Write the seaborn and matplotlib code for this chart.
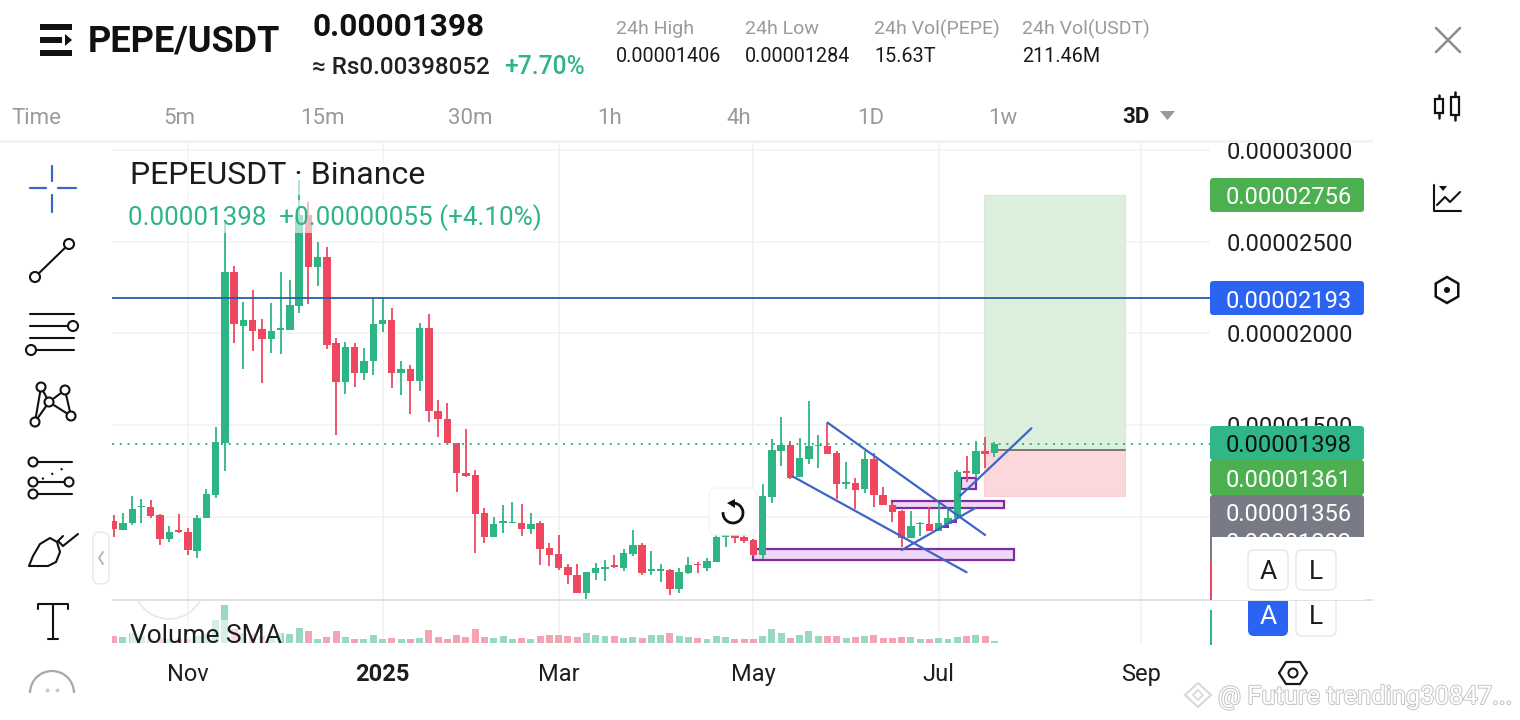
import numpy as np
import pandas as pd
import matplotlib
matplotlib.use("Agg")
import matplotlib.pyplot as plt
import matplotlib.patheffects as pe
from matplotlib.patches import Rectangle, FancyBboxPatch, RegularPolygon, Arc, Circle, Polygon
import seaborn as sns

# ---------------------------------------------------------
#                 DATA (prices in 1e-8 USDT)
# ---------------------------------------------------------

opens = [978, 927, 967, 1051, 1051, 1009, 878, 927, 915, 815, 991, 1118, 1404, 2333, 2042, 2071,
         2022, 1971, 2020, 2018, 2151, 2645, 2360, 2415, 1946, 1736, 1924, 1786, 1847, 2049, 2071, 1782,
         1804, 1742, 2029, 1578, 1531, 1400, 1240, 1226, 1018, 891, 967, 967, 967, 935, 964, 827,
         795, 724, 684, 586, 695, 716, 735, 718, 796, 846, 706, 706, 709, 606, 691, 744,
         718, 753, 891, 898, 891, 873, 791, 1109, 1360, 1391, 1218, 1316, 1386, 1386, 1346, 1180,
         1182, 1151, 1313, 1120, 1062, 1029, 882, 960, 958, 924, 960, 991, 1249, 1231, 1358, 1346]
highs = [1009, 1022, 1115, 1095, 1091, 1015, 949, 1015, 937, 1009, 1149, 1487, 2600, 2367, 2169, 2236,
         2078, 2164, 2333, 2291, 2836, 2718, 2496, 2469, 1973, 1951, 1946, 1918, 2191, 2200, 2136, 1847,
         1827, 2055, 2106, 1636, 1618, 1400, 1476, 1255, 1045, 996, 1062, 1078, 1067, 1018, 978, 858,
         898, 742, 740, 700, 747, 762, 791, 822, 927, 855, 811, 742, 713, 718, 778, 755,
         775, 900, 909, 909, 900, 878, 1176, 1422, 1542, 1415, 1427, 1631, 1444, 1513, 1356, 1298,
         1209, 1358, 1346, 1160, 1082, 1036, 1031, 973, 1051, 1073, 1036, 1255, 1333, 1413, 1433, 1406]
lows = [887, 927, 955, 967, 991, 846, 864, 909, 791, 777, 991, 1100, 1251, 1946, 1806, 1904,
        1731, 1895, 1887, 2018, 2113, 2160, 2258, 1916, 1446, 1669, 1709, 1746, 1773, 2007, 1702, 1664,
        1560, 1687, 1518, 1436, 1400, 1136, 1215, 804, 855, 891, 913, 964, 896, 906, 738, 733,
        709, 633, 582, 551, 655, 651, 722, 706, 787, 682, 682, 644, 573, 586, 687, 695,
        706, 753, 836, 858, 855, 786, 769, 1073, 1278, 1204, 1215, 1286, 1267, 1342, 1095, 1149,
        1040, 1131, 1051, 1062, 973, 836, 882, 895, 924, 924, 960, 986, 1187, 1209, 1267, 1327]
closes = [931, 967, 1044, 1058, 1004, 880, 918, 918, 818, 991, 1122, 1409, 2333, 2049, 2071, 2015,
          1971, 2015, 2027, 2153, 2645, 2360, 2415, 1938, 1736, 1924, 1786, 1847, 2049, 2071, 1782, 1804,
          1742, 2029, 1578, 1531, 1400, 1240, 1222, 1015, 891, 958, 975, 973, 935, 962, 825, 793,
          718, 684, 582, 700, 718, 727, 726, 802, 846, 691, 713, 713, 606, 698, 736, 735,
          758, 891, 900, 885, 867, 791, 1113, 1364, 1391, 1209, 1318, 1386, 1391, 1342, 1178, 1187,
          1146, 1313, 1118, 1062, 1027, 886, 949, 967, 924, 967, 991, 1244, 1240, 1358, 1340, 1398]
volumes = [20, 18, 30, 20, 12, 15, 12, 10, 10, 20, 25, 68, 113, 40, 30, 25,
           20, 20, 30, 25, 45, 35, 10, 18, 35, 17, 10, 10, 23, 10, 14, 10,
           10, 15, 38, 18, 10, 23, 18, 42, 18, 14, 20, 10, 14, 10, 20, 22,
           24, 21, 18, 30, 24, 21, 21, 14, 17, 14, 23, 22, 30, 20, 17, 15,
           10, 20, 18, 10, 10, 11, 20, 41, 28, 15, 23, 35, 19, 20, 20, 13,
           17, 21, 24, 14, 14, 17, 17, 10, 10, 14, 11, 17, 20, 23, 20, 5]

x_tick_pos = [8, 29, 48, 69, 89, 110.8]
x_tick_labels = ["Nov", "2025", "Mar", "May", "Jul", "Sep"]
y_ticks = [3000, 2500, 2000, 1500, 1000]
y_tick_labels = ["0.00003000", "0.00002500", "0.00002000", "0.00001500", "0.00001000"]

hline_price = 2193
last_price = 1398
long_x = [93.9, 109.1]
long_target, long_entry, long_stop = 2756, 1361, 1113

trend_lines = [((77.0, 1513), (94.0, 900)),
               ((73.3, 1218), (92.0, 697)),
               ((85.0, 818), (92.9, 1046)),
               ((91.3, 1113), (99.0, 1482))]
zones = [(69.0, 97.1, 764, 822), (84.0, 96.0, 1047, 1085), (91.35, 93.0, 1151, 1209)]
zone_slivers = [(89.5, 90.1, 936, 955), (90.46, 91.0, 964, 982)]

# the 1283 badge is mostly hidden, only the top of its digits shows
badges = [("0.00002756", 178, 212, "#4caf50", "white"),
          ("0.00002193", 281, 315, "#2b63f2", "white"),
          ("0.00001398", 426, 460, "#2fb689", "#111111"),
          ("0.00001361", 460, 495, "#4caf50", "white"),
          ("0.00001283", 524, 556, "#787b86", "white"),
          ("0.00001356", 495, 528, "#787b86", "white")]

header_stats = [(616, "24h High", "0.00001406"), (745, "24h Low", "0.00001284"),
                (874, "24h Vol(PEPE)", "15.63T"), (1022, "24h Vol(USDT)", "211.46M")]
tabs = [(179, "5m"), (322, "15m"), (470, "30m"), (610, "1h"), (739, "4h"), (871, "1D"), (1003, "1w")]

# ---------------------------------------------------------
#                 STYLE / AXES
# ---------------------------------------------------------

GREEN = "#2db583"
RED = "#ef4760"
BLUE_LINE = "#3b66c6"
GRID = "#f1f1f1"
W, H = 1520, 720

sns.set_theme(style="white")
plt.rcParams["font.family"] = ["Roboto", "DejaVu Sans"]

fig = plt.figure(figsize=(W / 100, H / 100), dpi=100, facecolor="white")


def px_axes(left, top, right, bottom):
    return fig.add_axes([left / W, 1 - bottom / H, (right - left) / W, (bottom - top) / H])


ax = px_axes(112, 141, 1210, 600)
ax_vol = px_axes(112, 600, 1210, 642.7)
ui = fig.add_axes([0, 0, 1, 1], zorder=10)
ui.set_xlim(0, W)
ui.set_ylim(H, 0)
ui.axis("off")
ui.patch.set_alpha(0)

# ---------------------------------------------------------
#                 PRICE PANEL
# ---------------------------------------------------------

df = pd.DataFrame({"open": opens, "high": highs, "low": lows, "close": closes, "volume": volumes})
df = df.assign(idx=np.arange(len(df)))
df["dir"] = np.where(df["close"] >= df["open"], "up", "down")
for col in ["open", "high", "low", "close"]:
    df[col] = df[col] * 1e-8

# position tool first so the candles sit on top of it
ax.add_patch(Rectangle((long_x[0], long_entry * 1e-8), long_x[1] - long_x[0], (long_target - long_entry) * 1e-8,
                       facecolor="#dcefdc", edgecolor="#d6ebd6", lw=0.8, zorder=1))
ax.add_patch(Rectangle((long_x[0], long_stop * 1e-8), long_x[1] - long_x[0], (long_entry - long_stop) * 1e-8,
                       facecolor="#fcd7dc", edgecolor="#fad0d6", lw=0.8, zorder=1))
ax.plot([94.8, long_x[1]], [long_entry * 1e-8] * 2, color="#707070", lw=1.3, zorder=1.5)

for x0, x1, y0, y1 in zones:
    ax.add_patch(Rectangle((x0, y0 * 1e-8), x1 - x0, (y1 - y0) * 1e-8,
                           facecolor="#f0d6f8", edgecolor="#7d2f9f", lw=1.6, zorder=1.6))
for x0, x1, y0, y1 in zone_slivers:
    ax.add_patch(Rectangle((x0, y0 * 1e-8), x1 - x0, (y1 - y0) * 1e-8, facecolor="#7d2f9f", lw=0, zorder=1.6))

for direction, color in [("up", GREEN), ("down", RED)]:
    sub = df[df["dir"] == direction]
    ax.vlines(sub["idx"], sub["low"], sub["high"], color=color, lw=1.3, zorder=2)
    ax.bar(sub["idx"], np.maximum((sub["close"] - sub["open"]).abs(), 1.5e-8),
           bottom=sub[["open", "close"]].min(axis=1), width=0.8, color=color, lw=0, zorder=3)

ax.axhline(hline_price * 1e-8, color="#2b5cab", lw=1.3, zorder=4)
ax.axhline(last_price * 1e-8, color=GREEN, lw=1.4, ls=(0, (1, 3)), zorder=4)
for start, end in trend_lines:
    ax.plot([start[0], end[0]], [start[1] * 1e-8, end[1] * 1e-8], color=BLUE_LINE, lw=1.6, zorder=5)

ax.set_xlim(-0.18, 118.26)
ax.set_ylim(545.5e-8, 3049e-8)
ax.set_xticks(x_tick_pos)
ax.set_xticklabels([])
ax.set_yticks([v * 1e-8 for v in y_ticks])
ax.set_yticklabels(y_tick_labels, fontsize=17, color="#1e1e1e")
ax.yaxis.tick_right()
ax.tick_params(axis="y", length=0, pad=12)
ax.tick_params(axis="x", length=0)
ax.grid(True, color=GRID, lw=1.1)
ax.set_axisbelow(True)
sns.despine(ax=ax, left=True, right=True, top=True, bottom=True)
ax.patch.set_alpha(0)

# ---------------------------------------------------------
#                 VOLUME PANEL
# ---------------------------------------------------------

sns.barplot(data=df, x="idx", y="volume", hue="dir", hue_order=["up", "down"],
            palette={"up": "#98d9bf", "down": "#f5a4b3"}, native_scale=True, dodge=False,
            width=0.75, saturation=1, legend=False, linewidth=0, ax=ax_vol, zorder=3)
# force the bar width, the hue split narrows them otherwise
for bar in ax_vol.patches:
    centre = bar.get_x() + bar.get_width() / 2
    bar.set_width(0.75)
    bar.set_x(centre - 0.375)
ax_vol.set_xlim(-0.18, 118.26)
ax_vol.set_ylim(0, 128)
ax_vol.set_xlabel("")
ax_vol.set_ylabel("")
ax_vol.set_yticks([])
ax_vol.set_xticks(x_tick_pos)
ax_vol.set_xticklabels(x_tick_labels, fontsize=17, color="#1e1e1e")
ax_vol.get_xticklabels()[1].set_fontweight("bold")
ax_vol.tick_params(axis="x", length=0, pad=14.5)
ax_vol.grid(True, axis="x", color=GRID, lw=1.1)
ax_vol.set_axisbelow(True)
sns.despine(ax=ax_vol, left=True, right=True, top=True, bottom=True)
ax_vol.patch.set_alpha(0)

# ---------------------------------------------------------
#                 UI OVERLAY (all in pixel coordinates)
# ---------------------------------------------------------


def line(xs, ys, color="#111111", lw=1.5, **kw):
    ui.plot(xs, ys, color=color, lw=lw, solid_capstyle="round", **kw)


def node(x, y, r=5, lw=1.5):
    ui.add_patch(Circle((x, y), r, facecolor="white", edgecolor="#111111", lw=lw, zorder=4))


def box(x0, y0, x1, y1, face, edge="none", lw=1, rad=2, z=3):
    ui.add_patch(FancyBboxPatch((x0 + rad, y0 + rad), x1 - x0 - 2 * rad, y1 - y0 - 2 * rad,
                                boxstyle=f"round,pad={rad},rounding_size={rad}",
                                facecolor=face, edgecolor=edge, lw=lw, zorder=z))


def label(x, y, s, **kw):
    # Roboto sits high with va=center
    ui.text(x, y + 4, s, va="center", **kw)


# separators
ui.add_patch(Rectangle((0, 139.5), 1373, 3, facecolor="#f3f3f3", lw=0))
ui.add_patch(Rectangle((112, 599), 1261, 2, facecolor="#e1e1e1", lw=0, zorder=2))
ui.add_patch(Arc((169, 583.4), 71, 71, theta1=27, theta2=153, color="#e8e8e8", lw=1.2))

# header
for y in (24, 50):
    ui.add_patch(Rectangle((40, y), 32, 6, facecolor="#111111", lw=0))
ui.add_patch(Rectangle((40, 37), 22, 6, facecolor="#111111", lw=0))
ui.add_patch(Polygon([(65, 34), (72, 40), (65, 46)], facecolor="#111111", lw=0))
label(88, 38, "PEPE/USDT", fontsize=26, fontweight="bold", color="#111111")
label(312, 23, "0.00001398", fontsize=22.7, fontweight="bold", color="#111111")
label(312, 63, "≈ Rs0.00398052", fontsize=17.4, fontweight="medium", color="#222222")
label(504, 63, "+7.70%", fontsize=17.7, fontweight="medium", color=GREEN)
for x, head, value in header_stats:
    label(x, 25, head, fontsize=14, color="#9a9a9a")
    label(x, 53, value, fontsize=14.2, color="#1a1a1a")

# timeframe tabs
label(11, 114, "Time", fontsize=16, color="#9a9a9a")
for x, tab in tabs:
    label(x, 114, tab, fontsize=16, color="#9a9a9a", ha="center")
label(1136, 113, "3D", fontsize=16, fontweight="bold", color="#1a1a1a", ha="center")
ui.add_patch(Polygon([(1160, 111), (1175, 111), (1167.5, 120)], facecolor="#9a9a9a", lw=0))

# legend lines over the candles
ui.add_patch(Rectangle((128, 158), 302, 37, facecolor="white", alpha=0.6, lw=0))
ui.add_patch(Rectangle((128, 200), 414, 33, facecolor="white", alpha=0.6, lw=0))
ui.add_patch(Rectangle((130, 620), 152, 23, facecolor="white", alpha=0.6, lw=0, zorder=3))
label(130, 172, "PEPEUSDT · Binance", fontsize=23, color="#1c1c1c", zorder=4)
label(128, 214, "0.00001398  +0.00000055 (+4.10%)", fontsize=18.75, color=GREEN, zorder=4)
label(130, 632, "Volume SMA", fontsize=19, color="#1c1c1c", zorder=4)

# price badges
for text, y0, y1, face, text_color in badges:
    box(1210, y0, 1364, y1, face, rad=3)
    label(1226, (y0 + y1) / 2 - 1, text, fontsize=17, color=text_color, zorder=4)
ui.add_patch(Rectangle((1212, 537), 153, 63, facecolor="white", lw=0, zorder=5))
ui.add_patch(Rectangle((1210, 537), 2, 25, facecolor="#787b86", lw=0, zorder=5))
ui.add_patch(Rectangle((1210, 562), 2, 38, facecolor=RED, lw=0, zorder=5))
ui.add_patch(Rectangle((1210, 610), 2, 35, facecolor=GREEN, lw=0, zorder=5))

# A / L buttons
box(1248, 550, 1288, 590, "white", "#e6e6e6", rad=6, z=6)
box(1296, 550, 1336, 590, "white", "#e6e6e6", rad=6, z=6)
label(1268, 568, "A", fontsize=19, color="#1c1c1c", ha="center", zorder=7)
label(1316, 568, "L", fontsize=19, color="#1c1c1c", ha="center", zorder=7)
box(1248, 590, 1288, 636, "#2b63f2", rad=6, z=1)
box(1296, 590, 1336, 636, "white", "#e6e6e6", rad=6, z=1)
ui.add_patch(Rectangle((1240, 585), 100, 14, facecolor="white", lw=0, zorder=1.5))
label(1268, 613, "A", fontsize=19, color="white", ha="center", zorder=7)
label(1316, 613, "L", fontsize=19, color="#1c1c1c", ha="center", zorder=7)

# reset button
box(709, 488, 757, 535, "white", "#f4f4f4", rad=8, z=5)
ui.add_patch(Arc((733, 513), 20, 20, theta1=-80, theta2=185, color="#111111", lw=2, zorder=6))
ui.add_patch(Polygon([(735, 499), (735, 508), (727, 503)], facecolor="#111111", lw=0, zorder=6))

# left toolbar
for xs, ys in [((30, 46), (188, 188)), ((58, 76), (188, 188)), ((52, 52), (166, 181)), ((52, 52), (195, 212))]:
    line(xs, ys, color=BLUE_LINE, lw=1.6)
line((35, 69), (277, 244))
node(35, 277)
node(69, 244)
for y in (314, 326, 338, 350):
    line((30, 74), (y, y))
node(73, 326)
node(31, 350)
for a, b in [((41, 387), (35, 422)), ((41, 387), (49, 402)), ((35, 422), (49, 402)),
             ((49, 402), (65, 390)), ((49, 402), (71, 416)), ((65, 390), (71, 416))]:
    line((a[0], b[0]), (a[1], b[1]))
for pt in [(41, 387), (49, 402), (65, 390), (71, 416), (35, 422)]:
    node(pt[0], pt[1], r=4.5)
line((33, 72), (462, 462))
line((33, 72), (482, 482))
line((33, 72), (494, 494))
line((42, 68), (479, 466), lw=1.5, ls=(0, (1, 4)))
for pt in [(33, 462), (33, 482), (69, 482), (33, 494)]:
    node(pt[0], pt[1], r=4.5)
ui.add_patch(Polygon([(29, 566), (33, 556), (40, 544), (50, 538), (57, 542), (60, 552), (56, 562), (48, 566)],
                     facecolor="white", edgecolor="#111111", lw=1.5, joinstyle="round"))
line((58, 63), (541, 546))
line((63, 78), (546, 534))
line((58, 63), (541, 536))
line((38, 38, 68, 68), (609, 604, 604, 609))
line((53, 53), (604, 639))
line((48, 58), (639, 639))
ui.add_patch(Arc((52, 693), 44, 44, theta1=180, theta2=360, color="#a8a8a8", lw=1.6))
ui.plot([47, 57], [690, 690], ls="", marker="o", ms=1.8, color="#c8c8c8")
box(93, 532, 109, 584, "white", "#e8e8e8", rad=7, z=3)
line((103, 99, 103), (552, 558, 564), color="#b5b5b5", lw=1.4, zorder=4)

# right toolbar
line((1436, 1460), (28, 52), color="#8c8c8c", lw=1.8)
line((1436, 1460), (52, 28), color="#8c8c8c", lw=1.8)
for x, y0, y1, top, bot in [(1439, 99, 113, 95, 118), (1455, 97, 115, 92, 120)]:
    line((x, x), (top, bot), lw=1.8)
    ui.add_patch(Rectangle((x - 4, y0), 8, y1 - y0, facecolor="white", edgecolor="#111111", lw=1.6, zorder=3))
line((1434, 1434, 1461), (185, 211, 211), lw=1.5)
line((1437, 1445, 1450, 1460), (205, 197, 202, 192), lw=1.5)
ui.add_patch(Polygon([(1439, 186), (1447, 186), (1443, 191)], facecolor="#111111", lw=0))
ui.add_patch(RegularPolygon((1447, 290), 6, radius=13, facecolor="none", edgecolor="#111111", lw=1.8))
ui.add_patch(Circle((1447, 290), 3, facecolor="#111111", lw=0))
ui.plot([1279, 1286, 1300, 1307, 1300, 1286, 1279], [673, 662, 662, 673, 684, 684, 673], color="#1a1a1a", lw=1.6)
ui.add_patch(Circle((1293, 673), 4.5, facecolor="white", edgecolor="#1a1a1a", lw=1.5))

# watermark
ui.add_patch(Polygon([(1198, 683), (1211, 695), (1198, 707), (1185, 695)], facecolor="none", edgecolor="#d8d8d8", lw=1.5))
ui.add_patch(Polygon([(1198, 690), (1203, 695), (1198, 700), (1193, 695)], facecolor="none", edgecolor="#d8d8d8", lw=1.2))
label(1218, 693, "@ Future trending30847...", fontsize=18.4, color="white", zorder=8,
      path_effects=[pe.withStroke(linewidth=1.4, foreground="#c4c4c4")])

fig.savefig("out.png", dpi=100, facecolor="white")
